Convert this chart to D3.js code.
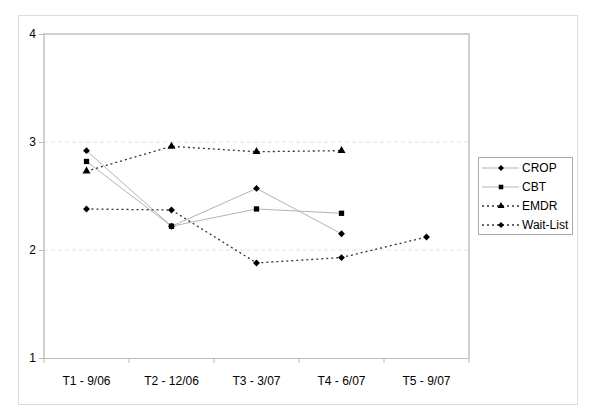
<!DOCTYPE html>
<html>
<head>
<meta charset="utf-8">
<script src="https://cdn.jsdelivr.net/npm/d3@7"></script>
<style>
  body { margin: 0; background: #fff; }
  svg text { font-family: "Liberation Sans", Arial, sans-serif; font-size: 12px; fill: #000; }
</style>
</head>
<body>
<svg width="600" height="415"></svg>
<script>
// values
var times = ["T1 - 9/06", "T2 - 12/06", "T3 - 3/07", "T4 - 6/07", "T5 - 9/07"];
var yTicks = [1, 2, 3, 4];
var crop = [2.92, 2.22, 2.57, 2.15, null];
var cbt = [2.82, 2.22, 2.38, 2.34, null];
var emdr = [2.73, 2.96, 2.91, 2.92, null];
var waitList = [2.38, 2.37, 1.88, 1.93, 2.12];

var diamond = d3.symbolDiamond2 || d3.symbolDiamond;
var series = [
  {name: "CROP", values: crop, symbol: diamond, size: 30, dotted: false},
  {name: "CBT", values: cbt, symbol: d3.symbolSquare, size: 28, dotted: false},
  {name: "EMDR", values: emdr, symbol: d3.symbolTriangle, size: 28, dotted: true},
  {name: "Wait-List", values: waitList, symbol: diamond, size: 30, dotted: true}
];

var svg = d3.select("svg"),
    pLeft = 44, pRight = 469, pTop = 34, pBottom = 358;

// outer chart frame
svg.append("rect")
    .attr("x", 18.5).attr("y", 15.5).attr("width", 559).attr("height", 389)
    .attr("fill", "none").attr("stroke", "#dcdcdc");

var x = d3.scaleBand().domain(times).range([pLeft, pRight]).padding(0);
var y = d3.scaleLinear().domain([1, 4]).range([pBottom, pTop]);

// gridlines
svg.append("g").selectAll("line")
    .data(yTicks.filter(function(d) { return d > 1 && d < 4; }))
  .enter().append("line")
    .attr("x1", pLeft).attr("x2", pRight)
    .attr("y1", function(d) { return y(d); }).attr("y2", function(d) { return y(d); })
    .attr("stroke", "#e0e0e0").attr("stroke-dasharray", "4,3");

// plot area border
svg.append("path")
    .attr("d", "M" + pLeft + "," + pBottom + "V" + pTop + "H" + pRight + "V" + pBottom)
    .attr("fill", "none").attr("stroke", "#d0d0d0").attr("stroke-width", 2);

// y axis
var yAxis = svg.append("g")
    .attr("transform", "translate(" + pLeft + ",0)")
    .call(d3.axisLeft(y).tickValues(yTicks).tickFormat(d3.format("d")).tickSize(5).tickPadding(3));
yAxis.select(".domain").remove();
yAxis.selectAll(".tick line").attr("stroke", "#bbb");
yAxis.selectAll("text").style("font-size", "12px");

// x axis
var xAxis = svg.append("g")
    .attr("transform", "translate(0," + pBottom + ")")
    .call(d3.axisBottom(x).tickSize(0).tickPadding(18));
xAxis.select(".domain").attr("stroke", "#bbb").attr("d", "M" + (pLeft - 5) + ",0.5H" + pRight);
xAxis.selectAll("text").style("font-size", "12px");
xAxis.selectAll(".bound")
    .data(times.map(function(d) { return x(d); }).concat([pRight]))
  .enter().append("line")
    .attr("x1", function(d) { return d; }).attr("x2", function(d) { return d; })
    .attr("y1", 0).attr("y2", 5).attr("stroke", "#bbb");

var line = d3.line()
    .defined(function(d) { return d != null; })
    .x(function(d, i) { return x(times[i]) + x.bandwidth() / 2; })
    .y(function(d) { return y(d); });

series.forEach(function(s) {
  svg.append("path")
      .attr("d", line(s.values))
      .attr("fill", "none")
      .attr("stroke", s.dotted ? "#333" : "#b4b4b4")
      .attr("stroke-width", s.dotted ? 1.3 : 1)
      .attr("stroke-dasharray", s.dotted ? "2,3" : null);
  svg.append("g").selectAll("path")
      .data(s.values.map(function(v, i) { return {v: v, i: i}; }).filter(function(d) { return d.v != null; }))
    .enter().append("path")
      .attr("transform", function(d) { return "translate(" + (x(times[d.i]) + x.bandwidth() / 2) + "," + y(d.v) + ")"; })
      .attr("d", d3.symbol().type(s.symbol).size(s.size))
      .attr("fill", "#000");
});

// legend
var legend = svg.append("g").attr("transform", "translate(478,157)");
legend.append("rect")
    .attr("x", 0.5).attr("y", 0.5).attr("width", 94).attr("height", 77)
    .attr("fill", "#fff").attr("stroke", "#aaa");
var item = legend.selectAll(".item")
    .data(series)
  .enter().append("g")
    .attr("transform", function(d, i) { return "translate(0," + (11 + i * 19) + ")"; });
item.append("line")
    .attr("x1", 4).attr("x2", 41)
    .attr("stroke", function(d) { return d.dotted ? "#333" : "#b4b4b4"; })
    .attr("stroke-width", function(d) { return d.dotted ? 1.3 : 1; })
    .attr("stroke-dasharray", function(d) { return d.dotted ? "2,3" : null; });
item.append("path")
    .attr("transform", "translate(23,0)")
    .attr("d", function(d) { return d3.symbol().type(d.symbol).size(d.size * 0.75)(); })
    .attr("fill", "#000");
item.append("text")
    .attr("x", 44).attr("dy", "0.35em")
    .text(function(d) { return d.name; });
</script>
</body>
</html>
